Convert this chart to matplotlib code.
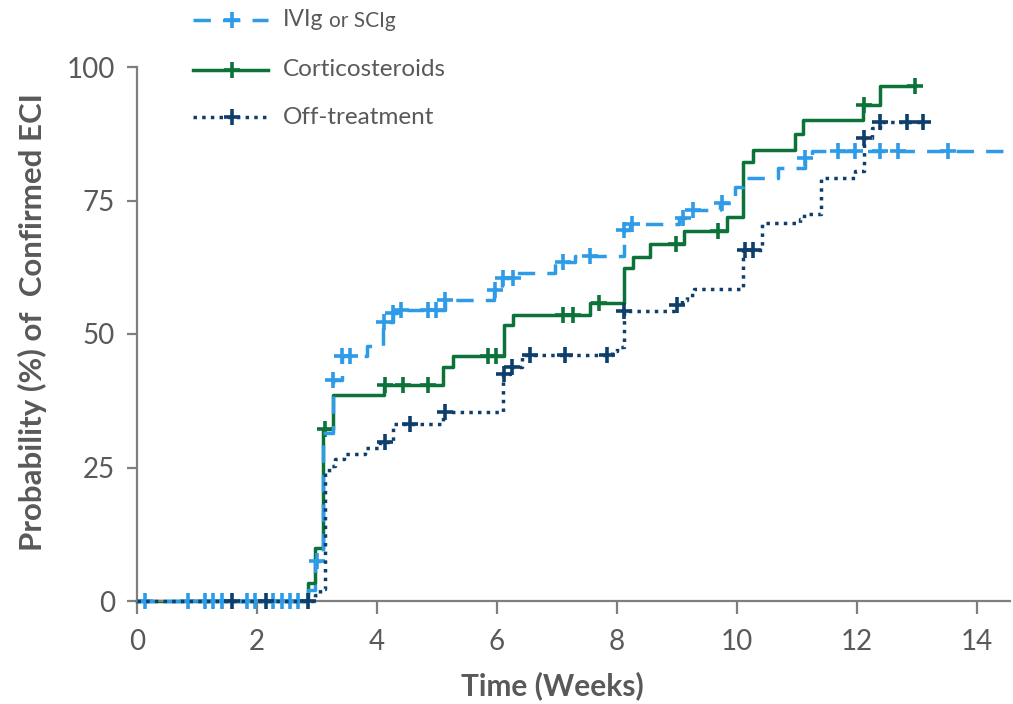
import matplotlib
matplotlib.use("Agg")
import matplotlib.pyplot as plt
from matplotlib.lines import Line2D
import numpy as np

# ---------------- data ----------------
ivig_t = [0, 2.85, 2.97, 3.1, 3.27, 3.42, 3.83, 4.1, 4.27, 4.4, 5.13, 5.95, 6.08, 6.3,
          6.97, 7.3, 8.12, 8.22, 9.03, 9.22, 9.72, 9.97, 10.1, 10.68, 11.13, 11.25, 14.55]
ivig_v = [0, 2.0, 7.5, 31.5, 41.4, 45.9, 47.8, 52.2, 53.9, 54.5, 56.4, 58.2, 60.5, 61.4,
          63.5, 64.7, 69.5, 70.6, 71.7, 73.2, 74.5, 77.5, 79.2, 81.1, 83.0, 84.3, 84.3]
ivig_cens = [0.13, 0.85, 1.13, 1.27, 1.42, 1.83, 1.97, 2.27, 2.42, 2.55, 2.68, 3.0, 3.27,
             3.42, 3.55, 4.12, 4.27, 4.4, 4.85, 4.98, 5.13, 5.97, 6.1, 6.27, 7.1, 7.55,
             8.12, 8.25, 9.1, 9.27, 9.75, 11.13, 11.68, 11.97, 12.38, 12.68, 13.52]

cort_t = [0, 2.85, 2.97, 3.1, 3.27, 4.12, 5.1, 5.27, 6.12, 6.27, 7.55, 8.12, 8.27, 8.55,
          9.12, 9.83, 10.1, 10.27, 10.97, 11.1, 12.1, 12.38, 12.97]
cort_v = [0, 3.4, 9.9, 32.3, 38.6, 40.4, 43.8, 45.8, 51.7, 53.6, 55.8, 62.4, 64.4, 66.9,
          69.3, 71.9, 82.2, 84.5, 87.5, 90.0, 92.9, 96.5, 96.5]
cort_cens = [3.13, 4.13, 4.43, 4.85, 5.85, 5.98, 7.1, 7.27, 7.7, 8.98, 9.68, 12.12, 12.97]

off_t = [0, 2.97, 3.05, 3.13, 3.2, 3.3, 3.45, 3.8, 4.05, 4.27, 5.1, 6.1, 6.22, 6.42,
         7.92, 8.0, 8.12, 8.98, 9.08, 9.17, 9.28, 10.1, 10.42, 11.05, 11.12, 11.4, 11.97,
         12.12, 12.25, 12.38, 13.13]
off_v = [0, 1.1, 2.2, 24.2, 25.2, 26.5, 27.5, 28.6, 29.7, 33.1, 35.4, 42.5, 43.9, 46.1,
         46.8, 47.6, 54.3, 55.4, 56.3, 57.3, 58.5, 65.7, 70.8, 71.5, 72.5, 79.2, 80.5,
         86.7, 88.5, 89.7, 89.7]
off_cens = [1.58, 2.15, 2.85, 4.13, 4.55, 5.13, 6.12, 6.25, 6.55, 7.13, 7.83, 8.12, 9.0,
            10.13, 10.27, 12.12, 12.38, 12.83, 13.1]

series_labels = ["IVIg", "or SCIg", "Corticosteroids", "Off-treatment"]
x_ticks = [0, 2, 4, 6, 8, 10, 12, 14]
y_ticks = [0, 25, 50, 75, 100]
x_label = "Time (Weeks)"
y_label = "Probability (%) of  Confirmed ECI"

# ---------------- style ----------------
C_BLUE = "#2E9BE8"
C_GREEN = "#0B7339"
C_NAVY = "#0E3F6C"
C_TEXT = "#595959"
C_AXIS = "#7F7F7F"
FONT = "Lato"
LW = 2.5
DASH = (0, (5.0, 3.5))
DOT = (0, (1.0, 1.5))

plt.rcParams["font.family"] = [FONT, "DejaVu Sans"]

W, H = 1013, 704
fig = plt.figure(figsize=(W / 100, H / 100), dpi=100)
ax = fig.add_axes([137 / W, 1 - 601 / H, 873 / W, 534 / H])


def cens_vals(t, v, c):
    t = np.asarray(t)
    v = np.asarray(v)
    idx = np.searchsorted(t, c, side="right") - 1
    return v[idx]


series = [
    (cort_t, cort_v, cort_cens, C_GREEN, "-", 2),
    (ivig_t, ivig_v, ivig_cens, C_BLUE, DASH, 3),
    (off_t, off_v, off_cens, C_NAVY, DOT, 4),
]
for t, v, c, col, ls, z in series:
    ax.plot(t, v, drawstyle="steps-post", color=col, lw=LW, ls=ls,
            dash_capstyle="butt", clip_on=False, zorder=z)
    ax.plot(c, cens_vals(t, v, c), ls="none", marker="+", ms=12, mew=2.6,
            color=col, clip_on=False, zorder=z + 0.5)

ax.set_xlim(0, 14.55)
ax.set_ylim(0, 100)
ax.set_xticks(x_ticks)
ax.set_yticks(y_ticks)
for s in ["top", "right"]:
    ax.spines[s].set_visible(False)
for s in ["left", "bottom"]:
    ax.spines[s].set_color(C_AXIS)
    ax.spines[s].set_linewidth(1.6)
ax.tick_params(axis="x", length=9, width=1.6, color=C_AXIS, labelcolor=C_TEXT,
               labelsize=20, pad=11)
ax.tick_params(axis="y", length=7, width=1.6, color=C_AXIS, labelcolor=C_TEXT,
               labelsize=20, pad=9)

ax.set_xlabel(x_label, fontsize=21.5, fontweight="bold", color=C_TEXT, labelpad=12)
ax.xaxis.label.set_x((552 - 137) / 873)
ax.set_ylabel(y_label, fontsize=22.5, fontweight="bold", color=C_TEXT, labelpad=14)
ax.yaxis.label.set_y((601 - 322) / 534)

# ---------------- legend (drawn manually above the axes) ----------------
def fx(px):
    return px / W


def fy(py):
    return 1 - py / H


rows = [(20, C_BLUE, DASH), (70, C_GREEN, "-"), (117, C_NAVY, DOT)]
for py, col, ls in rows:
    fig.add_artist(Line2D([fx(193), fx(268)], [fy(py), fy(py)], transform=fig.transFigure,
                          color=col, lw=LW, ls=ls, dash_capstyle="butt"))
    fig.add_artist(Line2D([fx(232)], [fy(py)], transform=fig.transFigure, color=col,
                          marker="+", ms=12, mew=2.6, ls="none"))

t1 = fig.text(fx(283), fy(20), series_labels[0], fontsize=16.5, color=C_TEXT,
              va="center", ha="left")
fig.canvas.draw()
bb = t1.get_window_extent(renderer=fig.canvas.get_renderer())
fig.text(bb.x1 / W + fx(5), fy(21), series_labels[1], fontsize=15, color=C_TEXT,
         va="center", ha="left")
fig.text(fx(283), fy(70), series_labels[2], fontsize=17.5, color=C_TEXT,
         va="center", ha="left")
fig.text(fx(283), fy(117), series_labels[3], fontsize=17.5, color=C_TEXT,
         va="center", ha="left")

fig.savefig("out.png", dpi=100)
